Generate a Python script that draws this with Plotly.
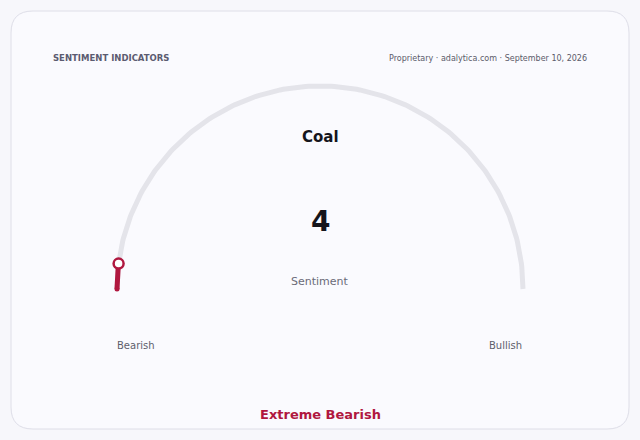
import numpy as np
import plotly.graph_objects as go

# data
indicator_name = "Coal"
gauge_value = 4
gauge_range = [0, 100]
end_labels = ["Bearish", "Bullish"]
value_label = "Sentiment"
status_label = "Extreme Bearish"
header_left = "SENTIMENT INDICATORS"
header_right = "Proprietary · adalytica.com · September 10, 2026"

RED = "#b0173f"
GREY_TRACK = "#e4e4ea"
FONT = "DejaVu Sans"

cx, cy, r = 320, 289, 203


def arc_points(v0, v1, n=200):
    lo, hi = gauge_range
    a0 = np.pi * (1 - (v0 - lo) / (hi - lo))
    a1 = np.pi * (1 - (v1 - lo) / (hi - lo))
    t = np.linspace(a0, a1, n)
    return cx + r * np.cos(t), cy - r * np.sin(t)


fig = go.Figure()

# grey track
tx, ty = arc_points(gauge_range[0], gauge_range[1])
fig.add_trace(go.Scatter(x=tx, y=ty, mode="lines", hoverinfo="skip",
                         line=dict(color=GREY_TRACK, width=5)))

# value arc
vx, vy = arc_points(gauge_range[0], gauge_value, 30)
fig.add_trace(go.Scatter(x=vx, y=vy, mode="lines", hoverinfo="skip",
                         line=dict(color=RED, width=5)))
# rounded cap at start
fig.add_trace(go.Scatter(x=vx[:1], y=vy[:1], mode="markers", hoverinfo="skip",
                         marker=dict(color=RED, size=5, line=dict(width=0))))
# end knob
fig.add_trace(go.Scatter(x=vx[-1:], y=vy[-1:], mode="markers", hoverinfo="skip",
                         marker=dict(color="white", size=10, line=dict(color=RED, width=2.5))))

# card background (rounded rect)
x0, y0, x1, y1, rr = 11, 11, 629, 429, 22
card = (f"M {x0+rr},{y0} L {x1-rr},{y0} Q {x1},{y0} {x1},{y0+rr} "
        f"L {x1},{y1-rr} Q {x1},{y1} {x1-rr},{y1} L {x0+rr},{y1} "
        f"Q {x0},{y1} {x0},{y1-rr} L {x0},{y0+rr} Q {x0},{y0} {x0+rr},{y0} Z")
fig.add_shape(type="path", path=card, xref="x", yref="y", layer="below",
              fillcolor="#fafafe", line=dict(color="#dedee8", width=1))

texts = [
    (51, 58, header_left, 8.5, "#5b5b70", True, "left"),
    (589, 58, header_right, 8, "#5b5b6a", False, "right"),
    (320, 137, indicator_name, 15, "#15151c", True, "center"),
    (320, 221, str(gauge_value), 28, "#15151c", True, "center"),
    (320, 281, value_label, 11, "#6a6a78", False, "center"),
    (136, 345, end_labels[0], 10, "#5e5e6c", False, "center"),
    (505, 345, end_labels[1], 10, "#5e5e6c", False, "center"),
    (320, 414, status_label, 13, RED, True, "center"),
]
for x, y, s, size, col, bold, anchor in texts:
    fig.add_annotation(x=x, y=y, xref="x", yref="y", showarrow=False,
                       text=f"<b>{s}</b>" if bold else s, xanchor=anchor, yanchor="middle",
                       font=dict(family=FONT, size=size, color=col))

fig.update_layout(
    width=640, height=440, margin=dict(l=0, r=0, t=0, b=0),
    paper_bgcolor="#f7f7fb", plot_bgcolor="rgba(0,0,0,0)",
    showlegend=False,
    xaxis=dict(range=[0, 640], visible=False, fixedrange=True),
    yaxis=dict(range=[440, 0], visible=False, fixedrange=True),
)

fig.write_html("out.html", config={"displayModeBar": False},
               post_script="document.body.style.margin='0';document.body.style.overflow='hidden';")
